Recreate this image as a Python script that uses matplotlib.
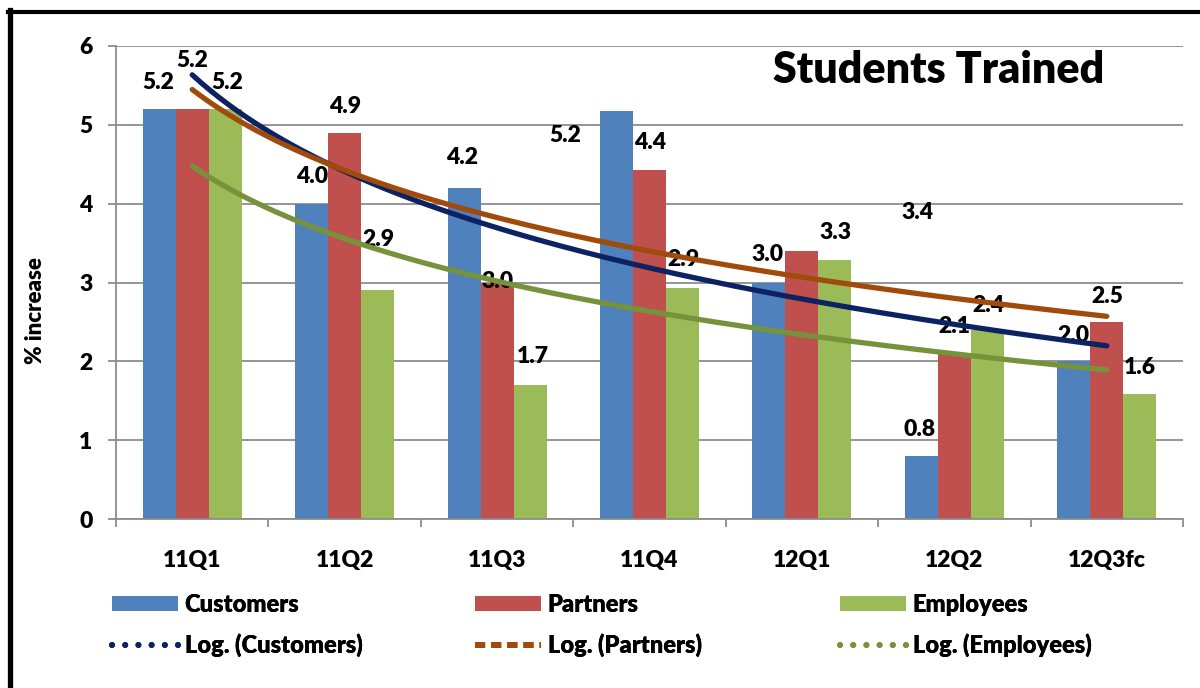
import numpy as np
import matplotlib
matplotlib.use("Agg")
import matplotlib.pyplot as plt
from matplotlib.lines import Line2D
from matplotlib.patches import Patch

categories = ["11Q1", "11Q2", "11Q3", "11Q4", "12Q1", "12Q2", "12Q3fc"]
customers = [5.2, 4.0, 4.2, 5.18, 3.0, 0.8, 2.0]
partners = [5.2, 4.9, 3.0, 4.43, 3.4, 2.1, 2.5]
employees = [5.2, 2.9, 1.7, 2.93, 3.29, 2.4, 1.59]
label_text_customers = ["5.2", "4.0", "4.2", "5.2", "3.0", "0.8", "2.0"]
label_text_partners = ["5.2", "4.9", "3.0", "4.4", "3.4", "2.1", "2.5"]
label_text_employees = ["5.2", "2.9", "1.7", "2.9", "3.3", "2.4", "1.6"]

# label placement (data coords), as manually placed in the original
lab_cust_x = [-0.224, 0.786, 1.770, 2.446, 3.777, 4.775, 5.778]
lab_cust_y = [5.54, 4.34, 4.59, 4.87, 3.35, 1.13, 2.33]
lab_part_x = [-0.001, 1.002, 2.0, 3.003, 4.761, 4.998, 6.001]
lab_part_y = [5.82, 5.23, 3.01, 4.77, 3.89, 2.44, 2.82]
lab_emp_x = [0.228, 1.219, 2.236, 3.220, 4.217, 5.221, 6.218]
lab_emp_y = [5.54, 3.54, 2.06, 3.29, 3.63, 2.71, 1.92]

FONT = ["Lato", "DejaVu Sans"]
W = "heavy"
plt.rcParams["font.family"] = FONT
plt.rcParams["font.weight"] = W

C_BAR = ["#4F81BD", "#C0504D", "#9BBB59"]
C_TREND = ["#0C2262", "#A04A0C", "#76933C"]
GRID = "#8C8C8C"

fig = plt.figure(figsize=(12, 6.88), dpi=100)
ax = fig.add_axes([116 / 1200, 1 - 519 / 688, (1183 - 116) / 1200, (519 - 46) / 688])

x = np.arange(len(categories))
w = 0.2165
series = [customers, partners, employees]
for k, (vals, col) in enumerate(zip(series, C_BAR)):
    ax.bar(x + (k - 1) * w, vals, width=w, color=col, zorder=2, linewidth=0)

# labels
fs = 16.5
for xs, ys, txts in [(lab_cust_x, lab_cust_y, label_text_customers),
                     (lab_part_x, lab_part_y, label_text_partners),
                     (lab_emp_x, lab_emp_y, label_text_employees)]:
    for xi, yi, t in zip(xs, ys, txts):
        ax.text(xi, yi, t, ha="center", va="center", fontsize=fs,
                fontweight=W, zorder=3)

# logarithmic trendlines
xx = np.linspace(1, len(categories), 200)
for vals, col in zip(series, C_TREND):
    a, b = np.polyfit(np.log(np.arange(1, len(vals) + 1)), vals, 1)
    ax.plot(xx - 1, a * np.log(xx) + b, color=col, lw=3.8,
            solid_capstyle="round", zorder=4)

ax.set_xlim(-0.5, len(categories) - 0.5)
ax.set_ylim(0, 6)
ax.set_yticks(range(0, 7))
ax.yaxis.grid(True, color=GRID, lw=1.3, zorder=0)
ax.set_axisbelow(True)
for s in ["top", "right"]:
    ax.spines[s].set_visible(False)
for s in ["left", "bottom"]:
    ax.spines[s].set_color(GRID)
    ax.spines[s].set_linewidth(1.3)
ax.set_xticks(x)
ax.set_xticklabels(categories, fontsize=fs, fontweight=W)
ax.set_xticks(np.arange(-0.5, len(categories), 1), minor=True)
ax.tick_params(axis="x", which="major", length=0, pad=22)
ax.tick_params(axis="x", which="minor", length=6, width=1.3, color=GRID,
               direction="out")
ax.tick_params(axis="y", length=6, width=1.3, color=GRID, direction="out",
               pad=11, labelsize=fs)
for lbl in ax.get_yticklabels():
    lbl.set_fontweight(W)
ax.set_ylabel("% increase", fontsize=16, fontweight=W)
ax.yaxis.set_label_coords(-0.066, 0.44)

ax.text(4.899, 5.70, "Students Trained", ha="center", va="center",
        fontsize=31, fontweight=W, zorder=5)

# legends (three columns)
names = ["Customers", "Partners", "Employees"]
dash_styles = [(0, (0.01, 2.2)), (0, (1.7, 1.0)), (0, (0.01, 2.2))]
caps = ["round", "butt", "round"]
col_x = [112 / 1200, 475 / 1200, 840 / 1200]
for k in range(3):
    handles = [Patch(facecolor=C_BAR[k], edgecolor="none"),
               Line2D([0], [0], color=C_TREND[k], lw=4.3,
                      linestyle=dash_styles[k], dash_capstyle=caps[k])]
    leg = fig.legend(handles, [names[k], "Log. (%s)" % names[k]],
                     loc="center left", bbox_to_anchor=(col_x[k], 1 - 625.5 / 688),
                     frameon=False, handlelength=2.8,
                     handletextpad=0.28, borderpad=0, borderaxespad=0,
                     labelspacing=0.72, handleheight=0.6,
                     prop={"weight": W, "size": 17, "family": FONT})
    fig.add_artist(leg)

# outer border (left and top visible)
fig.add_artist(Line2D([10 / 1200, 10 / 1200], [0, 1 - 10 / 688], color="black",
                      lw=3.8, transform=fig.transFigure))
fig.add_artist(Line2D([8 / 1200, 1], [1 - 12 / 688, 1 - 12 / 688], color="black",
                      lw=3.0, transform=fig.transFigure))

fig.savefig("out.png", dpi=100)
